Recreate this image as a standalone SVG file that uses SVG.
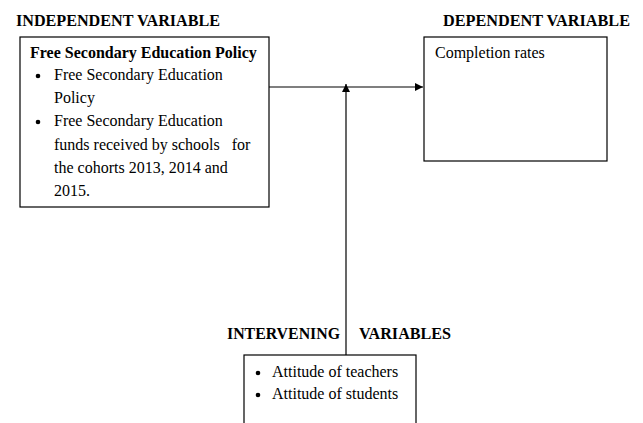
<svg xmlns="http://www.w3.org/2000/svg" width="643" height="423" viewBox="0 0 643 423">
<style>
text{font-family:"Liberation Serif","Times New Roman",serif;font-size:16px;fill:#000}
.h{font-weight:bold;font-size:16px}
.box{fill:#fff;stroke:#000;stroke-width:1.2}
.ln{stroke:#000;stroke-width:1.2;fill:none}
</style>
<defs>
<marker id="ah" viewBox="0 0 10 10" refX="10" refY="5" markerWidth="8" markerHeight="8" markerUnits="userSpaceOnUse" orient="auto">
<path d="M0,0 L10,5 L0,10 z" fill="#000"/>
</marker>
</defs>
<rect width="643" height="423" fill="#fff"/>
<text class="h" x="16" y="26" textLength="204" lengthAdjust="spacingAndGlyphs">INDEPENDENT VARIABLE</text>
<text class="h" x="443" y="26" textLength="187" lengthAdjust="spacingAndGlyphs">DEPENDENT VARIABLE</text>
<text class="h" x="227" y="339" textLength="113" lengthAdjust="spacingAndGlyphs">INTERVENING</text>
<text class="h" x="359" y="339" textLength="92" lengthAdjust="spacingAndGlyphs">VARIABLES</text>
<g id="connectors">
<line class="ln" x1="269" y1="87" x2="423" y2="87" marker-end="url(#ah)"/>
<line class="ln" x1="346" y1="355" x2="346" y2="84" marker-end="url(#ah)"/>
</g>
<g id="independent">
<rect class="box" x="20" y="37" width="249" height="170"/>
<text x="30" y="58" font-weight="bold">Free Secondary Education Policy</text>
<circle cx="38" cy="76" r="2.3"/>
<text x="54" y="80">Free Secondary Education</text>
<text x="54" y="103">Policy</text>
<circle cx="38" cy="122" r="2.3"/>
<text x="54" y="126">Free Secondary Education</text>
<text x="54" y="150" xml:space="preserve">funds received by schools   for</text>
<text x="54" y="173">the cohorts 2013, 2014 and</text>
<text x="54" y="196">2015.</text>
</g>
<g id="dependent">
<rect class="box" x="424" y="37" width="183" height="124"/>
<text x="435" y="58">Completion rates</text>
</g>
<g id="intervening">
<rect class="box" x="244" y="355" width="172" height="75"/>
<circle cx="258" cy="373" r="2.3"/>
<text x="272" y="377">Attitude of teachers</text>
<circle cx="258" cy="395" r="2.3"/>
<text x="272" y="399">Attitude of students</text>
</g>
</svg>
